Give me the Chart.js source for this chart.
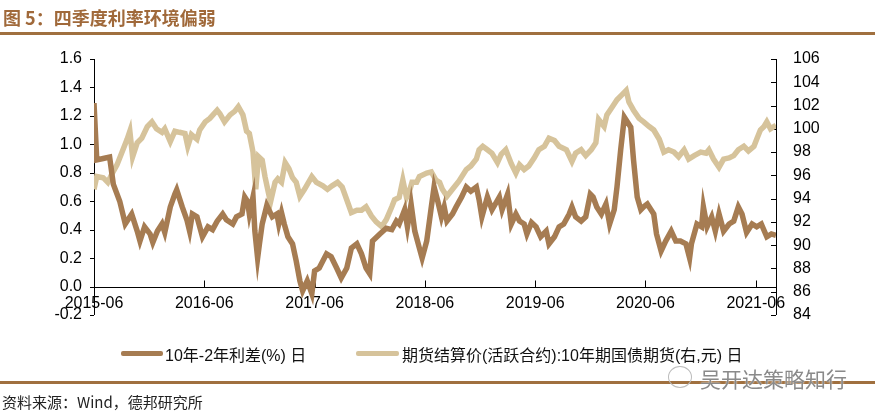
<!DOCTYPE html>
<html>
<head>
<meta charset="utf-8">
<script src="https://cdn.jsdelivr.net/npm/chart.js@4"></script>
<style>
  body { margin: 0; background: #fff; }
  #wrap { position: relative; width: 875px; height: 417px; overflow: hidden; font-family: "Liberation Sans", Arial, "Noto Sans CJK SC", sans-serif; }
  #chart { position: absolute; left: 0; top: 0; }
  .title { position: absolute; left: 3px; top: 4px; font-size: 18px; font-weight: bold; color: #A0693A; font-family: "Noto Sans CJK SC", sans-serif; }
  .rule { position: absolute; left: 0; width: 875px; height: 3px; background: #A0703F; }
  .legend { position: absolute; top: 342px; font-size: 16px; color: #111; white-space: nowrap; }
  .legend span.swatch { position: absolute; top: 9px; height: 5px; border-radius: 2px; }
  .source { position: absolute; left: 2px; top: 391px; font-size: 15px; color: #222; font-family: "Noto Sans CJK SC", sans-serif; }
  .mark { position: absolute; left: 700px; top: 363px; font-size: 21px; color: #8a8a8a; font-family: "Noto Sans CJK SC", sans-serif; text-shadow: 0 0 2px #fff; }
  .icon { position: absolute; left: 668px; top: 366px; width: 22px; height: 20px; border: 1px solid #bbb; border-radius: 50%; }
</style>
</head>
<body>
<div id="wrap">
  <canvas id="chart" width="875" height="417"></canvas>
  <div class="title">图 5：四季度利率环境偏弱</div>
  <div class="rule" style="top:32px"></div>
  <div class="legend" style="left:121px">
    <span class="swatch" style="left:0;width:42px;background:#A67C52"></span>
    <span style="margin-left:44px">10年-2年利差(%) 日</span>
  </div>
  <div class="legend" style="left:356px">
    <span class="swatch" style="left:0;width:43px;background:#D6C39B"></span>
    <span style="margin-left:46px">期货结算价(活跃合约):10年期国债期货(右,元) 日</span>
  </div>
  <div class="rule" style="top:381px"></div>
  <div class="icon"></div>
  <div class="mark">吴开达策略知行</div>
  <div class="source">资料来源：Wind，德邦研究所</div>
</div>
<script>
// x = months since 2015-06
const spreadMonths = [0, 0.3, 1.0, 1.7, 2.1, 2.8, 3.4, 4.1, 4.7, 5.0, 5.5, 6.1, 6.4, 6.9, 7.4, 7.7, 8.3, 8.8, 9.0, 9.6,
  10.1, 10.4, 10.7, 11.2, 11.8, 12.4, 12.9, 13.4, 14.0, 14.4, 15.1, 15.5, 16.1, 16.4, 16.7, 16.9, 17.3, 17.5, 17.8, 18.0,
  18.3, 18.8, 19.1, 19.4, 19.9, 20.1, 20.4, 20.7, 21.1, 21.6, 22.0, 22.4, 22.7, 23.2, 23.7, 24.0, 24.5, 25.3, 25.8, 26.4,
  26.9, 27.5, 28.0, 28.6, 29.1, 29.6, 30.0, 30.3, 31.1, 31.8, 32.4, 32.9, 33.2, 33.8, 34.1, 34.5, 34.9, 35.4, 35.7, 36.2,
  36.7, 37.0, 37.4, 37.8, 38.1, 38.4, 39.0, 39.4, 40.0, 40.5, 41.0, 41.6, 41.9, 42.2, 42.8, 43.3, 44.1, 44.4, 45.0, 45.4,
  45.9, 46.3, 46.8, 47.1, 47.6, 48.1, 48.6, 49.2, 49.5, 50.1, 50.6, 51.1, 51.7, 52.0, 52.4, 53.0, 53.5, 54.0, 54.3, 54.7,
  55.2, 55.7, 56.1, 56.6, 56.9, 57.3, 57.7, 58.0, 58.4, 58.7, 59.1, 59.5, 59.8, 60.2, 60.6, 60.9, 61.2, 61.7, 62.2, 62.8,
  63.3, 63.8, 64.4, 64.8, 65.0, 65.6, 66.1, 66.3, 66.7, 67.2, 67.6, 68.0, 68.5, 69.1, 69.6, 70.1, 70.5, 71.0, 71.6, 72.1,
  72.6, 73.2, 73.7, 74.2];
const spreadValues = [1.29, 0.89, 0.90, 0.91, 0.72, 0.60, 0.44, 0.51, 0.39, 0.32, 0.42, 0.37, 0.31, 0.39, 0.44, 0.38, 0.56, 0.65, 0.68, 0.56,
  0.47, 0.39, 0.51, 0.49, 0.35, 0.42, 0.40, 0.46, 0.51, 0.47, 0.44, 0.49, 0.51, 0.63, 0.60, 0.51, 0.63, 0.39, 0.20, 0.30,
  0.44, 0.57, 0.53, 0.49, 0.51, 0.44, 0.52, 0.44, 0.35, 0.30, 0.18, 0.04, -0.03, 0.04, -0.05, 0.11, 0.13, 0.23, 0.21, 0.13,
  0.06, 0.13, 0.27, 0.30, 0.23, 0.13, 0.09, 0.32, 0.37, 0.41, 0.40, 0.46, 0.44, 0.54, 0.42, 0.58, 0.39, 0.27, 0.20, 0.32,
  0.56, 0.70, 0.60, 0.49, 0.56, 0.46, 0.51, 0.56, 0.63, 0.70, 0.67, 0.70, 0.61, 0.49, 0.63, 0.54, 0.63, 0.54, 0.65, 0.44,
  0.51, 0.46, 0.44, 0.37, 0.45, 0.42, 0.35, 0.39, 0.30, 0.35, 0.42, 0.44, 0.51, 0.56, 0.49, 0.46, 0.49, 0.65, 0.63, 0.56,
  0.51, 0.58, 0.44, 0.54, 0.70, 0.96, 1.19, 1.16, 1.12, 0.89, 0.63, 0.54, 0.56, 0.58, 0.54, 0.51, 0.37, 0.25, 0.32, 0.39,
  0.32, 0.32, 0.30, 0.20, 0.30, 0.44, 0.42, 0.56, 0.42, 0.49, 0.39, 0.51, 0.39, 0.44, 0.46, 0.56, 0.51, 0.38, 0.44, 0.42,
  0.44, 0.35, 0.37, 0.36];

const futuresMonths = [0, 0.3, 1.0, 1.5, 2.0, 2.5, 3.0, 3.6, 3.9, 4.2, 4.7, 5.2, 5.8, 6.3, 6.8, 7.4, 7.7, 8.3, 8.8, 9.3,
  9.9, 10.2, 10.6, 11.2, 11.5, 12.1, 12.6, 13.4, 13.7, 14.2, 14.8, 15.3, 15.7, 16.2, 16.6, 16.9, 17.3, 17.6, 17.9, 18.3,
  18.6, 18.9, 19.2, 19.7, 20.0, 20.4, 20.8, 21.2, 21.6, 22.0, 22.4, 22.9, 23.7, 24.2, 24.9, 25.4, 25.9, 26.5, 27.0, 27.5,
  28.0, 28.6, 29.1, 29.6, 30.2, 30.7, 31.3, 31.8, 32.4, 32.7, 33.2, 33.6, 34.0, 34.3, 34.6, 35.1, 35.4, 36.2, 36.7, 37.2,
  37.6, 37.9, 38.4, 39.0, 39.7, 40.5, 41.0, 41.6, 41.9, 42.3, 42.8, 43.3, 43.9, 44.3, 44.8, 45.4, 45.9, 46.3, 46.8, 47.3,
  47.9, 48.4, 49.0, 49.5, 50.1, 50.6, 51.4, 52.0, 52.4, 53.0, 53.5, 54.1, 54.6, 54.9, 55.5, 55.8, 56.4, 56.9, 57.4, 57.9,
  58.2, 58.7, 59.3, 59.8, 60.4, 60.9, 61.5, 62.0, 62.5, 63.1, 63.6, 64.2, 64.7, 65.3, 66.0, 66.6, 66.9, 67.4, 68.0, 68.5,
  69.1, 69.6, 70.1, 70.7, 71.2, 71.8, 72.1, 72.5, 72.9, 73.2, 73.6, 74.2];
const futuresValues = [94.8, 95.9, 95.8, 95.4, 96.2, 96.9, 97.9, 99.1, 99.8, 97.6, 98.8, 99.2, 100.2, 100.6, 100.0, 99.7, 100.0, 98.9, 99.8, 99.7,
  99.6, 98.5, 99.5, 99.1, 99.9, 100.6, 100.9, 101.6, 101.3, 100.6, 101.2, 101.5, 101.9, 101.2, 99.8, 99.6, 98.0, 94.8, 97.6, 97.3,
  95.9, 94.8, 93.7, 95.4, 95.7, 95.4, 97.1, 96.6, 95.8, 95.4, 94.2, 94.8, 95.9, 95.4, 95.1, 94.8, 95.1, 95.4, 95.0, 93.9,
  92.8, 93.0, 93.0, 93.3, 92.5, 92.0, 91.6, 92.2, 93.3, 93.9, 94.1, 95.6, 94.1, 94.6, 95.4, 95.4, 95.9, 96.2, 96.3, 95.6,
  95.4, 94.8, 94.2, 94.8, 95.5, 96.5, 96.8, 97.4, 98.2, 98.5, 98.2, 97.9, 97.1, 97.8, 98.2, 97.0, 96.2, 96.9, 96.5, 96.8,
  97.5, 98.2, 98.5, 99.2, 99.0, 98.5, 98.2, 97.2, 97.9, 98.2, 97.7, 98.2, 98.8, 100.8, 100.2, 101.2, 101.9, 102.5, 102.9, 103.3,
  102.3, 101.6, 100.9, 100.6, 100.2, 99.9, 99.1, 98.0, 98.2, 98.0, 97.6, 98.2, 97.4, 97.7, 98.0, 97.9, 98.2, 97.4, 96.7, 97.4,
  97.5, 97.7, 98.2, 98.5, 98.1, 98.5, 99.1, 99.9, 100.2, 100.6, 100.0, 100.3];

const xTicks = [0, 12, 24, 36, 48, 60, 72];
const xTickLabels = ['2015-06', '2016-06', '2017-06', '2018-06', '2019-06', '2020-06', '2021-06'];

const tickFont = { family: '"Liberation Sans", Arial, sans-serif', size: 16 };

// axis lines and tick marks drawn by hand (x axis sits at 0 on the left scale)
const axisLines = {
  id: 'axisLines',
  beforeDatasetsDraw(chart) {
    const c = chart.ctx, a = chart.chartArea;
    const yl = chart.scales.y, yr = chart.scales.y1, x = chart.scales.x;
    c.save();
    c.strokeStyle = '#000';
    c.lineWidth = 1;
    c.beginPath();
    c.moveTo(a.left + 0.5, a.top); c.lineTo(a.left + 0.5, a.bottom);
    yl.ticks.forEach(t => { const p = Math.round(yl.getPixelForValue(t.value)) + 0.5; c.moveTo(a.left - 4, p); c.lineTo(a.left, p); });
    c.moveTo(a.right + 0.5, a.top); c.lineTo(a.right + 0.5, a.bottom);
    yr.ticks.forEach(t => { const p = Math.round(yr.getPixelForValue(t.value)) + 0.5; c.moveTo(a.right - 5, p); c.lineTo(a.right, p); });
    const y0 = Math.round(yl.getPixelForValue(0)) + 0.5;
    c.moveTo(a.left, y0); c.lineTo(a.right, y0);
    xTicks.forEach(v => { const p = Math.round(x.getPixelForValue(v)) + 0.5; c.moveTo(p, y0); c.lineTo(p, y0 - 7); });
    c.stroke();
    c.restore();
  }
};

new Chart(document.getElementById('chart'), {
  type: 'line',
  data: {
    datasets: [{
      label: '10年-2年利差(%) 日',
      data: spreadMonths.map((m, i) => ({ x: m, y: spreadValues[i] })),
      borderColor: '#A67C52',
      borderWidth: 5.5,
      pointRadius: 0,
      yAxisID: 'y',
      order: 1
    }, {
      label: '期货结算价(活跃合约):10年期国债期货(右,元) 日',
      data: futuresMonths.map((m, i) => ({ x: m, y: futuresValues[i] })),
      borderColor: '#D6C39B',
      borderWidth: 5.5,
      pointRadius: 0,
      yAxisID: 'y1',
      order: 2
    }]
  },
  options: {
    responsive: false,
    animation: false,
    layout: { padding: { top: 59, bottom: 102, left: 0, right: 0 } },
    scales: {
      x: {
        type: 'linear',
        min: 0,
        max: 74.2,
        position: { y: 0 },
        grid: { display: false, drawTicks: false },
        border: { display: false },
        afterBuildTicks: s => { s.ticks = xTicks.map(v => ({ value: v })); },
        ticks: {
          font: tickFont, color: '#000', padding: 7, maxRotation: 0, autoSkip: false,
          callback: v => xTickLabels[xTicks.indexOf(v)]
        }
      },
      y: {
        position: 'left',
        min: -0.2,
        max: 1.6,
        afterFit: s => { s.width = 94; },
        grid: { display: false, drawTicks: false },
        border: { display: false },
        ticks: { stepSize: 0.2, font: tickFont, color: '#000', padding: 12, callback: v => v.toFixed(1) }
      },
      y1: {
        position: 'right',
        min: 84,
        max: 106,
        afterFit: s => { s.width = 99; },
        grid: { display: false, drawTicks: false },
        border: { display: false },
        ticks: { stepSize: 2, font: tickFont, color: '#000', padding: 17 }
      }
    },
    plugins: {
      legend: { display: false },
      tooltip: { enabled: false }
    }
  },
  plugins: [axisLines]
});
</script>
</body>
</html>
